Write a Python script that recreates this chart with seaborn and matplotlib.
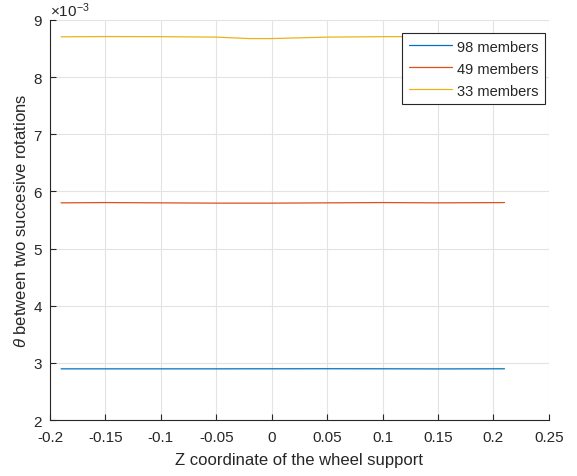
import numpy as np
import pandas as pd
import matplotlib
matplotlib.use("Agg")
import matplotlib.pyplot as plt
import seaborn as sns

# Z positions along the wheel support
z = [-0.19, -0.15, -0.10, -0.05, -0.02, 0.0, 0.05, 0.10, 0.15, 0.21]

# Angle between two successive rotations (in units of 1e-3)
theta_98 = [2.895, 2.895, 2.895, 2.895, 2.896, 2.896, 2.897, 2.896, 2.894, 2.896]
theta_49 = [5.800, 5.805, 5.800, 5.795, 5.795, 5.795, 5.800, 5.805, 5.800, 5.805]
theta_33 = [8.705, 8.710, 8.708, 8.700, 8.675, 8.675, 8.700, 8.708, 8.710, 8.708]

labels = ["98 members", "49 members", "33 members"]
colors = ["#0072BD", "#D95319", "#EDB120"]

frames = []
for lab, vals in zip(labels, [theta_98, theta_49, theta_33]):
    frames.append(pd.DataFrame({"z": z, "theta": np.array(vals) * 1e-3, "series": lab}))
df = pd.concat(frames, ignore_index=True)

sns.set_theme(style="white")
plt.rcParams["font.family"] = ["Liberation Sans", "DejaVu Sans"]
plt.rcParams["mathtext.fontset"] = "custom"
plt.rcParams["mathtext.rm"] = "Liberation Sans"
plt.rcParams["mathtext.it"] = "Liberation Sans:italic"

fig = plt.figure(figsize=(5.77, 4.77), dpi=100)
ax = fig.add_axes([0.0867, 0.1174, 0.8645, 0.8386])

sns.lineplot(data=df, x="z", y="theta", hue="series", palette=colors,
             hue_order=labels, linewidth=0.9, ax=ax, estimator=None, sort=True)

ax.set_xlim(-0.2, 0.25)
ax.set_ylim(2e-3, 9e-3)
ax.set_xticks(np.arange(-0.2, 0.2501, 0.05))
ax.set_xticklabels(["-0.2", "-0.15", "-0.1", "-0.05", "0", "0.05", "0.1", "0.15", "0.2", "0.25"])
ax.set_yticks(np.arange(2e-3, 9.001e-3, 1e-3))
ax.ticklabel_format(axis="y", style="sci", scilimits=(-3, -3), useMathText=True)

ax.grid(True, color="#e3e3e3", linewidth=0.8)
for s in ["top", "right"]:
    ax.spines[s].set_visible(False)
for s in ["left", "bottom"]:
    ax.spines[s].set_color("#262626")
    ax.spines[s].set_linewidth(0.8)
ax.tick_params(direction="in", length=4, width=0.8, colors="#262626",
               labelsize=11, left=True, bottom=True)
ax.tick_params(axis="x", pad=7)
ax.tick_params(axis="y", pad=5)
ax.yaxis.get_offset_text().set_fontsize(11)
ax.yaxis.get_offset_text().set_color("#262626")

ax.set_xlabel("Z coordinate of the wheel support", fontsize=12, color="#262626", labelpad=6)
ax.set_ylabel(r"$\theta$ between two succesive rotations", fontsize=12, color="#262626",
              labelpad=3)

leg = ax.legend(loc="upper right", bbox_to_anchor=(0.992, 0.9675), fontsize=10.5,
                frameon=True, fancybox=False, framealpha=1, edgecolor="#262626",
                handlelength=3.0, borderpad=0.45, labelspacing=0.55, handletextpad=0.3,
                borderaxespad=0)
leg.get_frame().set_linewidth(0.8)
leg.set_title(None)

fig.savefig("out.png", dpi=100)
